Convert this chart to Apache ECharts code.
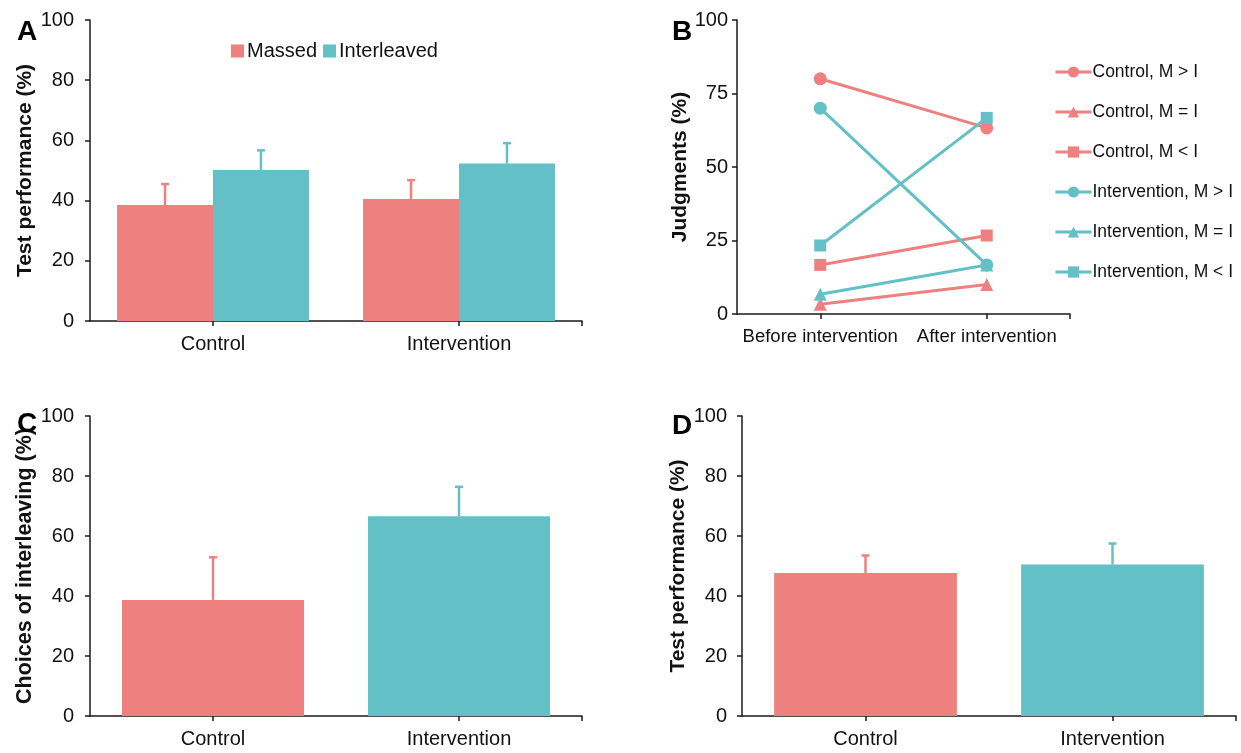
<!DOCTYPE html>
<html>
<head>
<meta charset="utf-8">
<script src="https://cdn.jsdelivr.net/npm/echarts@6/dist/echarts.min.js"></script>
<style>
  html, body { margin: 0; padding: 0; background: #fff; }
  #chart { width: 1241px; height: 753px; }
</style>
</head>
<body>
<div id="chart"></div>
<script>
// ---- data ----
const groups = ['Control', 'Intervention'];
const timepoints = ['Before intervention', 'After intervention'];

// Panel A: test performance by practice schedule
const massedMean = [38.5, 40.5];
const massedErr = [7.0, 6.3];
const interleavedMean = [50.2, 52.3];
const interleavedErr = [6.5, 6.8];

// Panel B: judgments (%) before / after
const controlMgtI = [80.0, 63.3];
const controlMeqI = [3.3, 10.0];
const controlMltI = [16.7, 26.7];
const interventionMgtI = [70.0, 16.7];
const interventionMeqI = [6.7, 16.7];
const interventionMltI = [23.3, 66.7];

// Panel C: choices of interleaving
const choicesMean = [38.7, 66.6];
const choicesErr = [14.2, 9.8];

// Panel D: test performance
const testMean = [47.7, 50.5];
const testErr = [5.8, 7.0];

const percentTicks = [0, 20, 40, 60, 80, 100];
const judgmentTicks = [0, 25, 50, 75, 100];

// ---- style ----
const RED = '#EF8080';
const TEAL = '#63C0C7';
const AXIS = '#1a1a1a';
const FONT = '"Liberation Sans", Arial, sans-serif';

const chart = echarts.init(document.getElementById('chart'), null, { renderer: 'canvas' });

const grids = [
  { left: 90, top: 20, width: 492, height: 301 },   // A
  { left: 737, top: 20, width: 333, height: 294 },  // B
  { left: 90, top: 416, width: 492, height: 300 },  // C
  { left: 742, top: 416, width: 494, height: 300 }  // D
];

function catAxis(gridIndex, data, fontSize) {
  return {
    type: 'category', gridIndex, data, position: 'bottom',
    boundaryGap: true,
    axisLine: { show: true, lineStyle: { color: AXIS, width: 1.5 } },
    axisTick: { show: false },
    axisLabel: { color: '#111', fontSize, fontFamily: FONT, margin: 13, interval: 0 },
    splitLine: { show: false }
  };
}

// Tick marks at the category centres and at the right end of the axis
function tickAxis(gridIndex) {
  return {
    type: 'category', gridIndex, position: 'bottom',
    data: ['', '', '', '', ''],
    boundaryGap: false,
    axisLine: { show: false },
    axisLabel: { show: false },
    axisTick: {
      show: true, length: 5,
      interval: (i) => i === 1 || i === 3 || i === 4,
      lineStyle: { color: AXIS, width: 1.5 }
    },
    splitLine: { show: false }
  };
}

function valAxis(gridIndex, ticks, name, nameGap, labelMargin, nameSize) {
  return {
    type: 'value', gridIndex,
    min: ticks[0], max: ticks[ticks.length - 1],
    interval: ticks[1] - ticks[0],
    name, nameLocation: 'middle', nameGap,
    nameTextStyle: { color: '#111', fontSize: nameSize, fontWeight: 'bold', fontFamily: FONT },
    axisLine: { show: true, lineStyle: { color: AXIS, width: 1.5 } },
    axisTick: { show: true, length: 5, lineStyle: { color: AXIS, width: 1.5 } },
    axisLabel: { color: '#111', fontSize: 20, fontFamily: FONT, margin: labelMargin },
    splitLine: { show: false }
  };
}

// Upper error whisker with a small cap, shifted to the centre of its bar
function whisker(color, offsetFrac) {
  return function (params, api) {
    const cat = api.value(0), v = api.value(1), e = api.value(2);
    const band = api.size([1, 0])[0];
    const p0 = api.coord([cat, v]);
    const p1 = api.coord([cat, v + e]);
    const x = p0[0] + band * offsetFrac;
    const style = { stroke: color, lineWidth: 2.5 };
    return {
      type: 'group',
      children: [
        { type: 'line', shape: { x1: x, y1: p0[1], x2: x, y2: p1[1] }, style },
        { type: 'line', shape: { x1: x - 4, y1: p1[1], x2: x + 4, y2: p1[1] }, style }
      ]
    };
  };
}

function errorSeries(xAxisIndex, yAxisIndex, means, errs, indices, color, offsetFrac) {
  return {
    type: 'custom', xAxisIndex, yAxisIndex, z: 3,
    data: indices.map(i => [i, means[i], errs[i]]),
    encode: { x: 0, y: 1 },
    renderItem: whisker(color, offsetFrac)
  };
}

const GAP_A = 0.22;        // barCategoryGap for grouped bars
const HALF_A = (1 - GAP_A) / 4;

function lineSeries(name, data, color, symbol, size, z) {
  return {
    type: 'line', name, data, xAxisIndex: 2, yAxisIndex: 1,
    color, symbol, symbolSize: size, z,
    lineStyle: { color, width: 3 },
    itemStyle: { color },
    emphasis: { disabled: true }
  };
}

const option = {
  animation: false,
  backgroundColor: '#fff',
  textStyle: { fontFamily: FONT },
  title: [
    { text: 'A', left: 12, top: 13 },
    { text: 'B', left: 667, top: 13 },
    { text: 'C', left: 12, top: 405 },
    { text: 'D', left: 667, top: 407 }
  ].map(t => Object.assign(t, {
    textStyle: { fontSize: 28, fontWeight: 'bold', color: '#000', fontFamily: FONT }
  })),
  grid: grids,
  legend: [
    {
      data: ['Massed', 'Interleaved'],
      left: 226, top: 36,
      icon: 'rect', itemWidth: 13, itemHeight: 13, itemGap: 6,
      textStyle: { fontSize: 20, color: '#111', fontFamily: FONT, padding: [0, 0, 0, -2] }
    },
    {
      data: ['Control, M > I', 'Control, M = I', 'Control, M < I',
             'Intervention, M > I', 'Intervention, M = I', 'Intervention, M < I'],
      orient: 'vertical', left: 1049, top: 58,
      itemWidth: 36, itemHeight: 14, itemGap: 22,
      lineStyle: { width: 3 },
      textStyle: { fontSize: 17.5, color: '#111', fontFamily: FONT, padding: [0, 0, 0, -4] }
    }
  ],
  xAxis: [
    catAxis(0, groups, 20),        // 0: A
    tickAxis(0),                   // 1
    catAxis(1, timepoints, 18.5),  // 2: B
    tickAxis(1),                   // 3
    catAxis(2, groups, 20),        // 4: C
    tickAxis(2),                   // 5
    catAxis(3, groups, 20),        // 6: D
    tickAxis(3)                    // 7
  ],
  yAxis: [
    valAxis(0, percentTicks, 'Test performance (%)', 54, 16, 21),
    valAxis(1, judgmentTicks, 'Judgments (%)', 40, 9, 21),
    valAxis(2, percentTicks, 'Choices of interleaving (%)', 54, 16, 21.5),
    valAxis(3, percentTicks, 'Test performance (%)', 53, 15, 21)
  ],
  series: [
    // A
    { type: 'bar', name: 'Massed', data: massedMean, xAxisIndex: 0, yAxisIndex: 0,
      color: RED, itemStyle: { color: RED }, barGap: '0%', barCategoryGap: (GAP_A * 100) + '%' },
    { type: 'bar', name: 'Interleaved', data: interleavedMean, xAxisIndex: 0, yAxisIndex: 0,
      color: TEAL, itemStyle: { color: TEAL }, barGap: '0%', barCategoryGap: (GAP_A * 100) + '%' },
    errorSeries(0, 0, massedMean, massedErr, [0, 1], RED, -HALF_A),
    errorSeries(0, 0, interleavedMean, interleavedErr, [0, 1], TEAL, HALF_A),

    // B
    lineSeries('Control, M > I', controlMgtI, RED, 'circle', 13, 2),
    lineSeries('Control, M = I', controlMeqI, RED, 'triangle', 13, 2),
    lineSeries('Control, M < I', controlMltI, RED, 'rect', 12, 2),
    lineSeries('Intervention, M = I', interventionMeqI, TEAL, 'triangle', 13, 3),
    lineSeries('Intervention, M > I', interventionMgtI, TEAL, 'circle', 13, 4),
    lineSeries('Intervention, M < I', interventionMltI, TEAL, 'rect', 12, 5),

    // C
    { type: 'bar', data: choicesMean.map((v, i) => ({ value: v, itemStyle: { color: i === 0 ? RED : TEAL } })),
      xAxisIndex: 4, yAxisIndex: 2, barWidth: '74%' },
    errorSeries(4, 2, choicesMean, choicesErr, [0], RED, 0),
    errorSeries(4, 2, choicesMean, choicesErr, [1], TEAL, 0),

    // D
    { type: 'bar', data: testMean.map((v, i) => ({ value: v, itemStyle: { color: i === 0 ? RED : TEAL } })),
      xAxisIndex: 6, yAxisIndex: 3, barWidth: '74%' },
    errorSeries(6, 3, testMean, testErr, [0], RED, 0),
    errorSeries(6, 3, testMean, testErr, [1], TEAL, 0)
  ]
};

chart.setOption(option);
</script>
</body>
</html>
